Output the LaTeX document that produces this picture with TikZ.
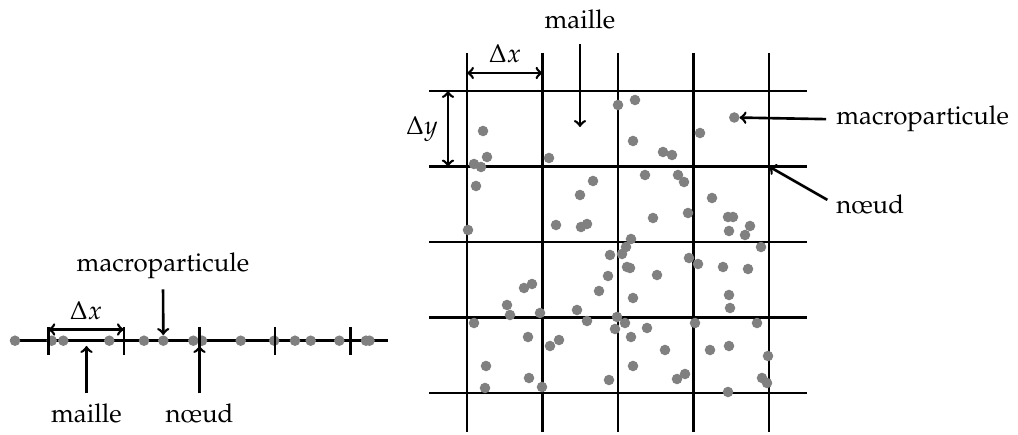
\documentclass[tikz,border=0pt]{standalone}
\usepackage[T1]{fontenc}
\usepackage{mathpazo}
\usepackage{tikz}

\begin{document}
\begin{tikzpicture}[x=0.02cm,y=-0.02cm,line width=1.5pt,
	every node/.style={font=\fontsize{14.7}{17}\selectfont,inner sep=0pt},
	particle/.style={fill=black!50}]
	\useasboundingbox (0,0) rectangle (1018,435);
	% 1D
	\draw (10,340.7) -- (388,340.7);
	\foreach \x in {15,51.7,63.3,109.3,144,163.3,193.3,202,240.7,274.2,295,310.7,339.3,366,369.5} {\fill[particle] (\x,340.7) circle (3pt);}
	\foreach \k in {0,...,4} {\draw ({48.3+75.6*\k},327) -- ({48.3+75.6*\k},355);}
	\draw[<->] (48.3,329.5) -- (123.9,329.5);
	\node[anchor=base] (dx1) at (86,320) {$\Delta x$};
	\node[anchor=base] (mp1) at (163,272) {macroparticule};
	\node[anchor=base] (ma1) at (86.5,423) {maille};
	\node[anchor=base] (nd1) at (199.5,423) {n\oe ud};
	\coordinate (p1) at (163.3,335);
	\coordinate (c1) at (86.5,346);
	\coordinate (n1) at (199.5,346);
	\draw[->, shorten <=5pt] (mp1.south) -- (p1);
	\draw[->, shorten <=5.5pt] (ma1.north) -- (c1);
	\draw[->, shorten <=5.5pt] (nd1.north) -- (n1);
	% 2D
	\foreach \k in {0,...,4} {
		\draw ({467+75.5*\k},53) -- ({467+75.5*\k},432);
		\draw (429,{91+75.5*\k}) -- (807,{91+75.5*\k});
	}
	\foreach \x/\y in {483/131,487/157,474/164,481/167,476/186,468/230,549/158,593/181,580/195,556/225,
		581/227,587/224,618/105,635/100,633/141,663/152,672/155,700/133,734.3/117.5,645/175,
		678/175,684/182,712/198,653/218,688/213,728/217,733/217,750/226,729/231,745/235,
		761/247,631/239,626/247,622/254,610/255,689/258,698/264,627/267,630/268,608/276,
		599/291,524/288,532/284,507/305,510/315,540/313,577/310,587/321,617/317,615/329,
		474/323,528/337,550/346,559/340,486/366,529/378,542/387,485/388,609/380,657/275,
		633/298,723/267,748/269,729/295,730/308,625/323,647/328,631/337,695/323,757/323,
		665/350,710/350,729/346,768/356,633/366,677/379,685/374,762/378,767/383,728/392} {
		\fill[particle] (\x,\y) circle (3pt);
	}
	\draw[<->] (467,73) -- (542.5,73);
	\draw[<->] (448,91) -- (448,166.5);
	\node[anchor=base] (dx2) at (505,62.7) {$\Delta x$};
	\node[anchor=base] (dy2) at (422,135) {$\Delta y$};
	\node[anchor=base] (ma2) at (580,29) {maille};
	\node[anchor=base west] (mp2) at (835,125) {macroparticule};
	\node[anchor=base west] (nd2) at (835,213.3) {n\oe ud};
	\coordinate (c2) at (580,127);
	\coordinate (p2) at (734.3,117.5);
	\coordinate (n2) at (769,166.5);
	\draw[->, shorten <=7.4pt] (ma2.south) -- (c2);
	\draw[->, shorten <=5pt, shorten >=3pt] (mp2.west) -- (p2);
	\draw[->, shorten <=5pt] (nd2.west) -- (n2);
\end{tikzpicture}
\end{document}
